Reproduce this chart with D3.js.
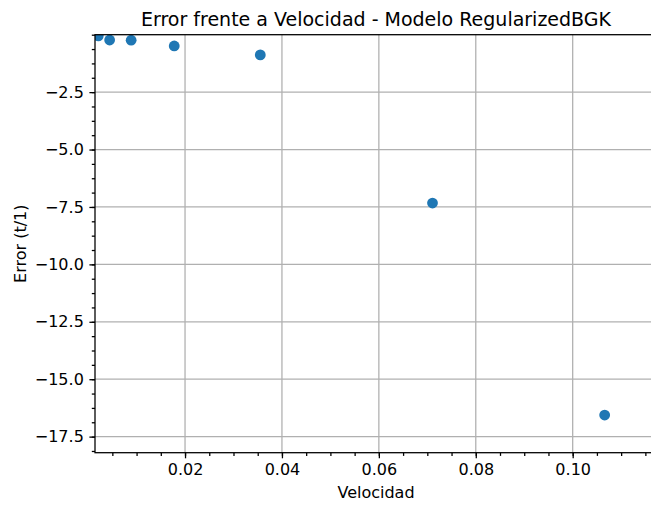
<!DOCTYPE html>
<html>
<head>
<meta charset="utf-8">
<script src="https://cdn.jsdelivr.net/npm/d3@7"></script>
<style>
  html, body { margin: 0; padding: 0; background: #fff; overflow: hidden; }
  svg { display: block; font-family: "DejaVu Sans", sans-serif; }
</style>
</head>
<body>
<svg id="chart" width="651" height="506"></svg>
<script>
// Velocity samples and the measured error for each run
const velocidad = [0.0021, 0.00444, 0.00888, 0.01777, 0.03553, 0.07107, 0.10660];
const error = [-0.05, -0.23, -0.24, -0.49, -0.88, -7.33, -16.56];

const xTicks = [0.02, 0.04, 0.06, 0.08, 0.10];
const yTicks = [-2.5, -5.0, -7.5, -10.0, -12.5, -15.0, -17.5];

const titulo = "Error frente a Velocidad - Modelo RegularizedBGK";
const etiquetaX = "Velocidad";
const etiquetaY = "Error (t/1)";

const W = 651, H = 506;
const plot = { left: 95, right: 657, top: 34.7, bottom: 452.7 };

const svg = d3.select("#chart");

const x = d3.scaleLinear().domain([0.00142, 0.1174]).range([plot.left, plot.right]);
const y = d3.scaleLinear().domain([0, -18.2]).range([plot.top, plot.bottom]);

const minus = s => s.replace("-", "\u2212");
const fmtX = d => d3.format(".2f")(d);
const fmtY = d => minus(d3.format(".1f")(d));

// minor ticks: quarter steps of the major spacing
const xMinor = d3.range(0.005, 0.1175, 0.005).filter(v => x(v) >= plot.left - 0.5);
const yMinor = d3.range(0, -18.2, -0.625);

// gridlines
const grid = svg.append("g").attr("stroke", "#b0b0b0").attr("stroke-width", 1.28);
grid.selectAll(".gx").data(xTicks).join("line")
  .attr("x1", d => x(d)).attr("x2", d => x(d))
  .attr("y1", plot.top).attr("y2", plot.bottom);
grid.selectAll(".gy").data(yTicks).join("line")
  .attr("x1", plot.left).attr("x2", plot.right)
  .attr("y1", d => y(d)).attr("y2", d => y(d));

// points, clipped to the plotting area
svg.append("clipPath").attr("id", "area").append("rect")
  .attr("x", plot.left).attr("y", plot.top)
  .attr("width", plot.right - plot.left).attr("height", plot.bottom - plot.top);

svg.append("g").attr("clip-path", "url(#area)")
  .selectAll("circle").data(velocidad).join("circle")
  .attr("cx", d => x(d))
  .attr("cy", (d, i) => y(error[i]))
  .attr("r", 5.4)
  .attr("fill", "#1f77b4");

// x axis
const xAxis = svg.append("g").attr("transform", `translate(0,${plot.bottom})`)
  .call(d3.axisBottom(x).tickValues(xTicks).tickFormat(fmtX).tickSizeOuter(0).tickSize(5.6).tickPadding(5.6));
const xAxisMinor = svg.append("g").attr("transform", `translate(0,${plot.bottom})`)
  .call(d3.axisBottom(x).tickValues(xMinor).tickFormat("").tickSizeOuter(0).tickSize(3.2));

// y axis
const yAxis = svg.append("g").attr("transform", `translate(${plot.left},0)`)
  .call(d3.axisLeft(y).tickValues(yTicks).tickFormat(fmtY).tickSizeOuter(0).tickSize(5.6).tickPadding(5.6));
const yAxisMinor = svg.append("g").attr("transform", `translate(${plot.left},0)`)
  .call(d3.axisLeft(y).tickValues(yMinor).tickFormat("").tickSizeOuter(0).tickSize(3.2));

[xAxis, xAxisMinor, yAxis, yAxisMinor].forEach(g => {
  g.select(".domain").remove();
  g.selectAll("line").attr("stroke", "#000").attr("stroke-width", 1.28);
  g.selectAll("text").attr("fill", "#000").attr("font-size", 16)
    .attr("font-family", "DejaVu Sans, sans-serif");
});

// frame
svg.append("rect")
  .attr("x", plot.left).attr("y", plot.top)
  .attr("width", plot.right - plot.left).attr("height", plot.bottom - plot.top)
  .attr("fill", "none").attr("stroke", "#000").attr("stroke-width", 1.28);

// labels
const cx = (plot.left + plot.right) / 2;
svg.append("text").attr("x", cx).attr("y", 26)
  .attr("text-anchor", "middle").attr("font-size", 19).text(titulo);
svg.append("text").attr("x", cx).attr("y", 498)
  .attr("text-anchor", "middle").attr("font-size", 16).text(etiquetaX);
svg.append("text")
  .attr("transform", `translate(26,${(plot.top + plot.bottom) / 2}) rotate(-90)`)
  .attr("text-anchor", "middle").attr("font-size", 16).text(etiquetaY);
</script>
</body>
</html>
